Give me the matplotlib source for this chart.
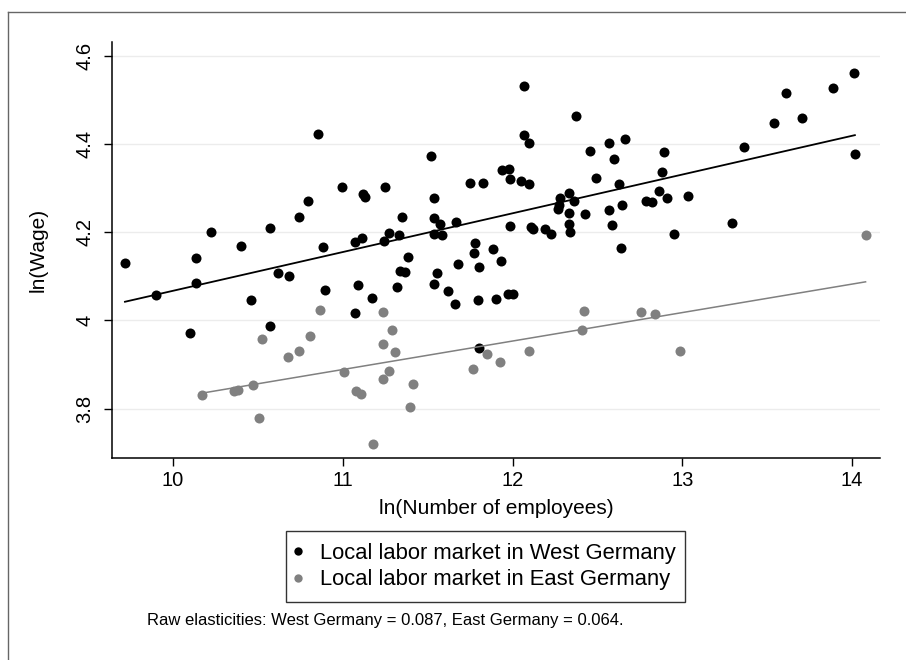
import numpy as np
import matplotlib
matplotlib.use("Agg")
import matplotlib.pyplot as plt
from matplotlib.lines import Line2D

plt.rcParams['font.family'] = ['Liberation Sans', 'DejaVu Sans']

# ln(number of employees) and ln(wage) per local labor market
west_x = [9.717, 10.135, 10.224, 10.400, 10.569, 10.740, 10.795, 10.852, 10.885, 10.995,
          11.072, 11.111, 11.117, 11.132, 11.243, 11.251, 11.272, 10.618, 9.900, 10.137,
          10.102, 10.458, 10.569, 10.685, 10.895, 11.088, 11.170, 11.074, 12.069, 12.372,
          12.067, 12.095, 11.521, 12.456, 12.566, 12.662, 12.599, 12.890, 12.878, 11.747,
          11.826, 11.939, 11.979, 11.986, 12.051, 12.095, 11.535, 12.493, 12.625, 12.860,
          12.911, 12.784, 12.819, 12.332, 12.279, 12.275, 12.269, 12.363, 12.332, 12.427,
          12.568, 12.642, 12.583, 12.332, 12.338, 12.640, 12.953, 11.350, 11.539, 11.574,
          11.668, 11.333, 11.535, 11.583, 11.986, 12.110, 12.122, 12.189, 12.226, 11.385,
          11.776, 11.770, 11.887, 11.932, 11.681, 11.802, 11.337, 11.369, 11.555, 11.322,
          11.539, 11.618, 11.659, 11.798, 11.904, 11.975, 12.004, 11.800, 14.010, 13.885,
          13.612, 13.706, 13.541, 13.363, 14.016, 13.031, 13.294]
west_y = [4.131, 4.141, 4.200, 4.170, 4.209, 4.235, 4.270, 4.424, 4.167, 4.303,
          4.178, 4.187, 4.287, 4.279, 4.181, 4.303, 4.199, 4.107, 4.057, 4.084,
          3.972, 4.046, 3.987, 4.101, 4.070, 4.080, 4.050, 4.016, 4.531, 4.464,
          4.421, 4.403, 4.374, 4.384, 4.403, 4.412, 4.366, 4.383, 4.338, 4.312,
          4.312, 4.341, 4.343, 4.321, 4.316, 4.309, 4.278, 4.324, 4.309, 4.294,
          4.278, 4.272, 4.269, 4.290, 4.277, 4.263, 4.252, 4.270, 4.244, 4.242,
          4.251, 4.261, 4.216, 4.219, 4.201, 4.165, 4.196, 4.235, 4.233, 4.218,
          4.224, 4.193, 4.197, 4.193, 4.214, 4.213, 4.208, 4.207, 4.197, 4.144,
          4.176, 4.153, 4.161, 4.135, 4.127, 4.122, 4.112, 4.111, 4.107, 4.075,
          4.082, 4.067, 4.038, 4.046, 4.048, 4.061, 4.061, 3.938, 4.562, 4.527,
          4.517, 4.460, 4.449, 4.394, 4.377, 4.282, 4.222]

east_x = [10.867, 11.234, 11.290, 10.524, 10.805, 10.744, 10.677, 11.234, 11.005, 11.272,
          11.234, 10.469, 10.361, 10.385, 10.173, 11.076, 11.105, 10.508, 11.176, 11.309,
          11.415, 11.394, 11.768, 11.847, 11.927, 12.096, 12.420, 12.409, 12.758, 12.838,
          12.986, 14.079]
east_y = [4.023, 4.018, 3.978, 3.957, 3.965, 3.930, 3.916, 3.947, 3.883, 3.886,
          3.868, 3.854, 3.840, 3.841, 3.830, 3.840, 3.834, 3.778, 3.719, 3.929,
          3.856, 3.803, 3.889, 3.924, 3.905, 3.930, 4.022, 3.978, 4.018, 4.014,
          3.930, 4.193]

x_ticks = [10, 11, 12, 13, 14]
y_ticks = [3.8, 4.0, 4.2, 4.4, 4.6]
y_tick_labels = ['3.8', '4', '4.2', '4.4', '4.6']

west_label = 'Local labor market in West Germany'
east_label = 'Local labor market in East Germany'
note = 'Raw elasticities: West Germany = 0.087, East Germany = 0.064.'

gray = '#808080'

fig = plt.figure(figsize=(9.06, 6.6), dpi=100)
ax = fig.add_axes([0.1233, 0.3056, 0.848, 0.6308])

ax.scatter(west_x, west_y, s=52, color='black', linewidths=0, zorder=3)
ax.scatter(east_x, east_y, s=52, color=gray, linewidths=0, zorder=3)

# linear fits (Stata lfit)
for xs, ys, col, lw in [(west_x, west_y, 'black', 1.3), (east_x, east_y, gray, 1.1)]:
    b, a = np.polyfit(xs, ys, 1)
    xx = np.array([min(xs), max(xs)])
    ax.plot(xx, a + b * xx, color=col, lw=lw, zorder=4)

ax.set_xlim(9.639, 14.164)
ax.set_ylim(3.687, 4.632)
ax.set_xticks(x_ticks)
ax.set_yticks(y_ticks)
ax.set_yticklabels(y_tick_labels, rotation=90, va='center')
ax.tick_params(axis='both', direction='out', length=5.5, width=1, labelsize=14.5)
ax.tick_params(axis='x', pad=4)
ax.tick_params(axis='y', pad=7)
ax.grid(axis='y', color='#ececec', lw=1.0, zorder=0)
ax.set_axisbelow(True)
for s in ['top', 'right']:
    ax.spines[s].set_visible(False)
for s in ['left', 'bottom']:
    ax.spines[s].set_linewidth(1.1)

ax.set_xlabel('ln(Number of employees)', fontsize=15, labelpad=6)
ax.set_ylabel('ln(Wage)', fontsize=15, labelpad=20)

handles = [Line2D([], [], ls='none', marker='o', ms=6, color='black', mec='none'),
           Line2D([], [], ls='none', marker='o', ms=6, color=gray, mec='none')]
leg = fig.legend(handles, [west_label, east_label], loc='upper left', mode='expand',
                 bbox_to_anchor=(286 / 906, 1 - 530.7 / 660, 399 / 906, 0.0),
                 fontsize=15.8, frameon=True, fancybox=False, edgecolor='black',
                 handletextpad=1.0, handlelength=0.0, borderpad=0.55,
                 labelspacing=0.25, borderaxespad=0)
leg.get_frame().set_linewidth(1.0)

fig.text(147 / 906, 1 - 621 / 660, note, fontsize=12, va='center', ha='left')

# outer frame (Stata graph region border)
fig.add_artist(Line2D([8.3 / 906, 8.3 / 906], [0, 1 - 11.7 / 660], color='#666666', lw=1.0))
fig.add_artist(Line2D([8.3 / 906, 1], [1 - 11.7 / 660, 1 - 11.7 / 660], color='#666666', lw=1.0))

fig.savefig('out.png', dpi=100)
